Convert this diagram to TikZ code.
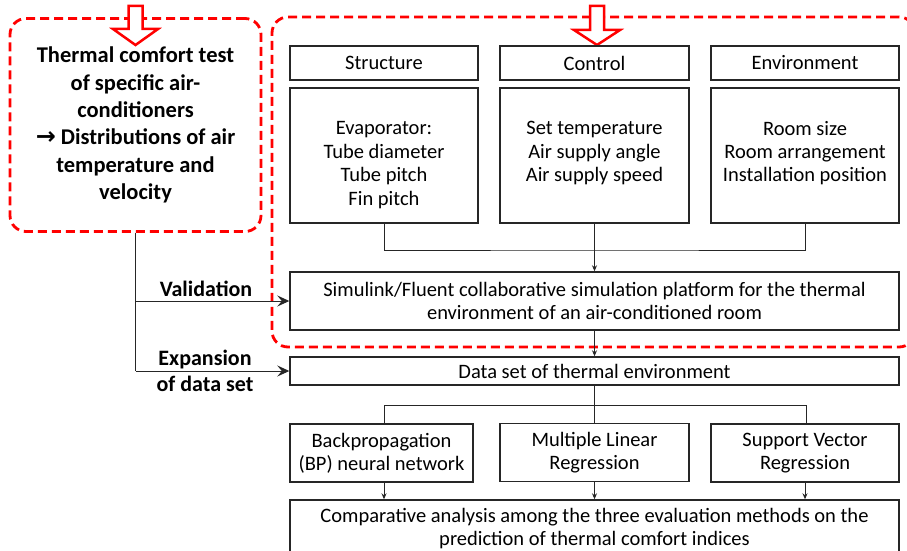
\documentclass[tikz,border=0pt]{standalone}
\usepackage{fontspec}
\setmainfont{Carlito}
\newfontfamily\dejavu{DejaVu Sans}
\usetikzlibrary{arrows.meta}
\begin{document}
\begin{tikzpicture}[x=1pt,y=-1pt,
 box/.style={draw=black!85, line width=1.4pt, inner sep=0pt, align=center, font=\fontsize{20.5}{23.4}\selectfont},
 boxtext/.style={inner sep=0pt, align=center, font=\fontsize{20.5}{23.4}\selectfont},
 reddash/.style={draw=red, line width=2.8pt, dash pattern=on 9pt off 5pt, rounded corners=16pt, inner sep=0pt},
 lbl/.style={font=\bfseries\fontsize{22}{26}\selectfont, align=center, inner sep=0pt},
 conn/.style={draw=black!85, line width=1pt},
 sarrow/.style={conn, -{Stealth[length=6pt,width=5pt]}},
 barrow/.style={conn, -{Stealth[length=12pt,width=11pt,inset=4.5pt]}},
 hollow/.style={draw=red, line width=2.5pt, fill=white, line join=miter}
]
\useasboundingbox (0,0) rectangle (907,551);

% red dashed regions
\node[reddash, minimum width=251pt, minimum height=213pt, align=center,
      font=\bfseries\fontsize{22.5}{27.3}\selectfont] (lb) at (135.5,125)
  {Thermal comfort test\\ of specific air-\\ conditioners\\ {\dejavu\bfseries\fontsize{24}{27}\selectfont →} Distributions of air\\ temperature and\\ velocity};
\node[reddash, minimum width=643pt, minimum height=330pt] (rb) at (593.5,182) {};

% hollow red arrows
\draw[hollow] (128.5,6) -- (142.5,6) -- (142.5,29) -- (158,29) -- (135.5,45) -- (113,29) -- (128.5,29) -- cycle;
\draw[hollow] (590,6) -- (604,6) -- (604,30) -- (620,30) -- (597,45) -- (574,30) -- (590,30) -- cycle;

% top row
\node[box, minimum width=188pt, minimum height=34pt] (s) at (384,63) {Structure};
\node[box, minimum width=189pt, minimum height=34pt] (c) at (594.5,63) {Control};
\node[box, minimum width=188pt, minimum height=34pt] (e) at (805,63) {Environment};

\node[box, minimum width=188pt, minimum height=135pt] (s2) at (384,155.5) {};
\node[box, minimum width=189pt, minimum height=135pt] (c2) at (594.5,155.5) {};
\node[box, minimum width=188pt, minimum height=135pt] (e2) at (805,155.5) {};
\node[boxtext] (s2t) at (384,165) {Evaporator:\\ Tube diameter\\ Tube pitch\\ Fin pitch};
\node[boxtext] (c2t) at (594.5,153) {Set temperature\\ Air supply angle\\ Air supply speed};
\node[boxtext] (e2t) at (805,153) {Room size\\ Room arrangement\\ Installation position};

\node[box, minimum width=609pt, minimum height=58pt] (sim) at (594.5,301)
  {Simulink/Fluent collaborative simulation platform for the thermal\\ environment of an air-conditioned room};
\node[box, minimum width=609pt, minimum height=28pt] (data) at (594.5,371)
  {Data set of thermal environment};

\node[box, minimum width=183pt, minimum height=58pt] (bp) at (381.5,453)
  {Backpropagation\\ (BP) neural network};
\node[box, minimum width=189pt, minimum height=58pt] (mlr) at (594.5,452.5)
  {Multiple Linear\\ Regression};
\node[box, minimum width=188pt, minimum height=58pt] (svr) at (805,453)
  {Support Vector\\ Regression};

\node[box, minimum width=609pt, minimum height=57pt] (cmp) at (594.5,528.5)
  {Comparative analysis among the three evaluation methods on the\\ prediction of thermal comfort indices};

% connectors
\coordinate (j1) at (594.5,250);
\draw[conn] (s2.south) |- (j1) -| (e2.south);
\draw[conn] (c2.south) -- (j1);
\draw[sarrow] (j1) -- (sim.north);
\draw[sarrow] (sim.south) -- (data.north);

\coordinate (j2) at (594.5,405);
\coordinate (j3) at (384,405);
\coordinate (j4) at (806,405);
\draw[conn] (data.south) -- (j2);
\draw[conn] (j3) -- (j4);
\draw[conn] (j3) -- (j3 |- bp.north);
\draw[conn] (j4) -- (j4 |- svr.north);
\draw[conn] (j2) -- (mlr.north);

\coordinate (k1) at (384,482);
\draw[sarrow] (k1) -- (k1 |- cmp.north);
\draw[sarrow] (mlr.south) -- (mlr.south |- cmp.north);
\draw[sarrow] (svr.south) -- (svr.south |- cmp.north);

% left feedback
\coordinate (b1) at (135.5,301);
\coordinate (b2) at (135.5,371);
\draw[conn] (lb.south) -- (b2);
\draw[barrow] (b1) -- (sim.west);
\draw[barrow] (b2) -- (data.west);

\node[lbl] (val) at (206,289) {Validation};
\node[lbl] (exp) at (205,371) {Expansion\\ of data set};
\end{tikzpicture}
\end{document}
